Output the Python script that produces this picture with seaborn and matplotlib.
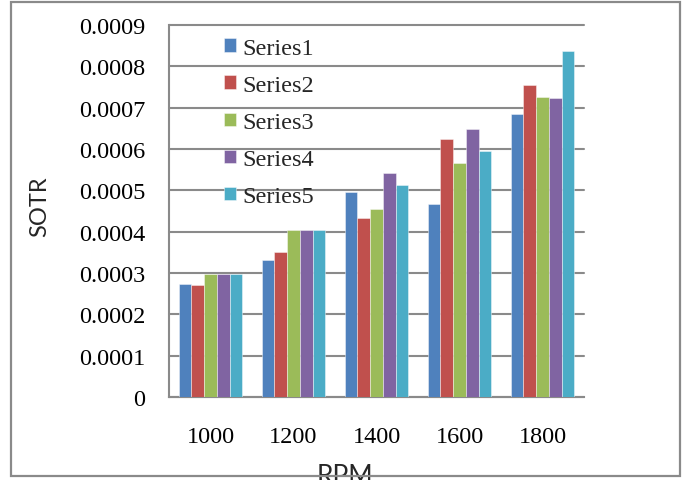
import matplotlib
matplotlib.use("Agg")
import matplotlib.pyplot as plt
from matplotlib.patches import Rectangle
import seaborn as sns
import pandas as pd

# Data
rpm = ["1000", "1200", "1400", "1600", "1800"]
series_names = ["Series1", "Series2", "Series3", "Series4", "Series5"]
series1 = [0.000274, 0.000332, 0.000495, 0.000467, 0.000684]
series2 = [0.000272, 0.000351, 0.000433, 0.000623, 0.000756]
series3 = [0.000297, 0.000403, 0.000456, 0.000565, 0.000727]
series4 = [0.000297, 0.000405, 0.000541, 0.000649, 0.000723]
series5 = [0.000297, 0.000404, 0.000513, 0.000594, 0.000838]
y_ticks = [0.0, 0.0001, 0.0002, 0.0003, 0.0004, 0.0005, 0.0006, 0.0007, 0.0008, 0.0009]
y_tick_labels = ["0", "0.0001", "0.0002", "0.0003", "0.0004", "0.0005",
                 "0.0006", "0.0007", "0.0008", "0.0009"]
colors = ["#4F81BD", "#C0504D", "#9BBB59", "#8064A2", "#4BACC6"]

rows = []
for name, vals in zip(series_names, [series1, series2, series3, series4, series5]):
    for r, v in zip(rpm, vals):
        rows.append({"RPM": r, "SOTR": v, "Series": name})
df = pd.DataFrame(rows)

sns.set_style("white")
serif = ["Liberation Serif", "DejaVu Serif"]
sans = ["Lato", "DejaVu Sans"]
grey = "#8a8a8a"

W, H = 683, 481
fig = plt.figure(figsize=(W / 100, H / 100), dpi=100)
ax = fig.add_axes([169 / W, 1 - 398 / H, (584 - 169) / W, (398 - 26) / H])

sns.barplot(data=df, x="RPM", y="SOTR", hue="Series", order=rpm,
            hue_order=series_names, palette=colors, saturation=1,
            width=0.765, edgecolor=(1, 1, 1, 0.5), linewidth=0.6,
            errorbar=None, ax=ax, zorder=3)

ax.set_xlim(-0.5, len(rpm) - 0.5)
ax.set_ylim(0, 0.0009)
ax.set_yticks(y_ticks)
ax.set_yticklabels(y_tick_labels, family=serif, fontsize=17.5)
ax.set_xticks(range(len(rpm)))
ax.set_xticklabels(rpm, family=serif, fontsize=17.5)
ax.set_xticks([i - 0.5 for i in range(len(rpm) + 1)], minor=True)
ax.tick_params(axis="x", which="major", length=0, pad=21, colors="black")
ax.tick_params(axis="x", which="minor", length=7, width=1.4, color=grey, direction="out")
ax.tick_params(axis="y", length=7, width=1.4, color=grey, direction="out", pad=10,
               labelcolor="black")
ax.set_xlabel("")
ax.set_ylabel("")

ax.yaxis.grid(True, color=grey, linewidth=1.5, zorder=0)
ax.set_axisbelow(True)
for gl in ax.get_ygridlines():
    gl.set_clip_on(False)

for side in ["top", "right"]:
    ax.spines[side].set_visible(False)
for side in ["left", "bottom"]:
    ax.spines[side].set_color(grey)
    ax.spines[side].set_linewidth(1.5)

handles, labels = ax.get_legend_handles_labels()
ax.legend(handles, labels, loc="upper left",
          bbox_to_anchor=(224 / W, 1 - 39 / H), bbox_transform=fig.transFigure,
          frameon=False, prop={"family": serif, "size": 17.5},
          handlelength=0.5, handleheight=0.5, handletextpad=0.25,
          labelspacing=0.66, borderpad=0, borderaxespad=0)

fig.text(40 / W, 1 - 207 / H, "SOTR", rotation=90, ha="center", va="center",
         family=sans, fontsize=17)
fig.text(345 / W, 1 - 484 / H, "RPM", ha="center", va="baseline",
         family=sans, fontsize=19)

fig.add_artist(Rectangle((11 / W, 1 - 477 / H), (680 - 11) / W, (477 - 3) / H,
                         transform=fig.transFigure, fill=False,
                         edgecolor=grey, linewidth=1.6, zorder=10))

fig.savefig("out.png", dpi=100)
